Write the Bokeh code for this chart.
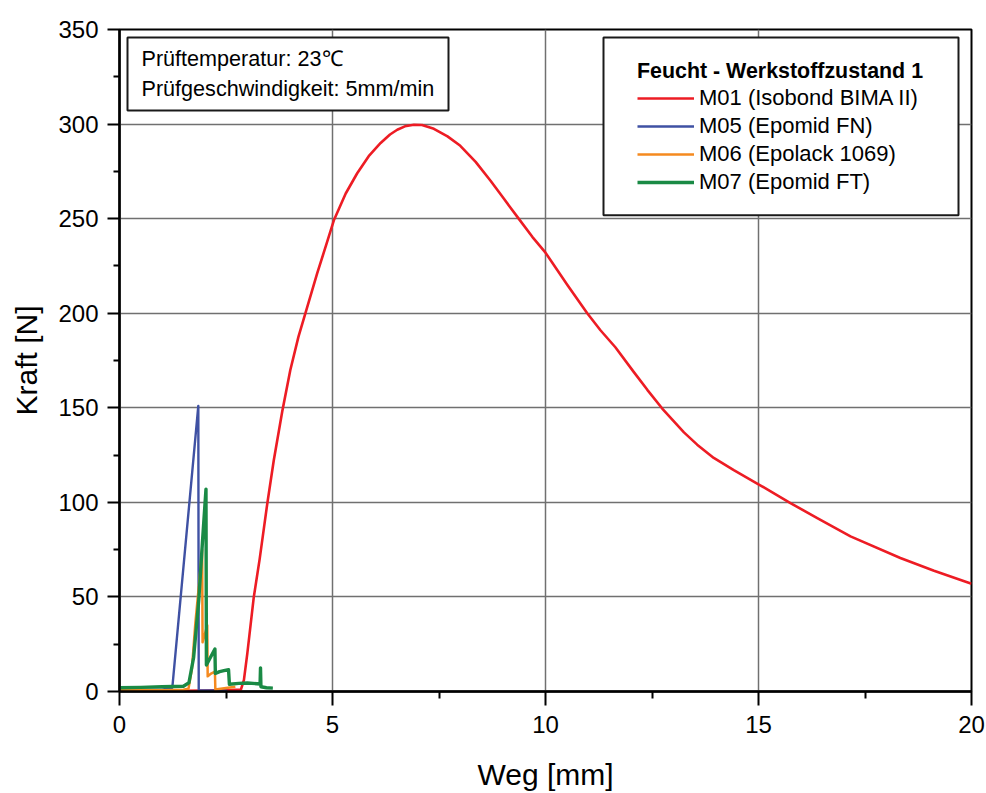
from bokeh.plotting import figure
from bokeh.models import (Range1d, FixedTicker, Legend, LegendItem, BoxAnnotation, Label)
from bokeh.embed import file_html
from bokeh.resources import INLINE

# ---------------- data ----------------
x_ticks = [0, 5, 10, 15, 20]
x_minor = [2.5, 7.5, 12.5, 17.5]
y_ticks = [0, 50, 100, 150, 200, 250, 300, 350]
y_minor = [25, 75, 125, 175, 225, 275, 325]

m01_x = [0, 1.0, 2.0, 2.6, 2.85, 2.92, 3.0, 3.15, 3.29, 3.47, 3.62, 3.82, 4.01, 4.2, 4.37,
         4.64, 4.85, 5.03, 5.31, 5.58, 5.85, 6.13, 6.35, 6.52, 6.7, 6.91, 7.1, 7.38, 7.7,
         8.0, 8.36, 8.71, 9.02, 9.37, 9.69, 10.0, 10.51, 10.98, 11.29, 11.64, 12.07, 12.39,
         12.74, 13.25, 13.56, 13.95, 14.42, 15.02, 15.75, 16.38, 17.16, 18.33, 19.12, 20.0]
m01_y = [0.3, 0.3, 0.5, 0.8, 1.0, 6, 20, 49.5, 70, 99.5, 122, 148, 170, 187.5, 200.5,
         221, 236, 249, 263.3, 274, 283, 290, 294.5, 297, 298.8, 299.6, 299.5, 297.5, 293.5,
         288.5, 280, 270, 260.6, 250, 240.4, 232, 215, 200, 191, 182, 169, 159.5,
         149.6, 137, 130.5, 123.5, 117, 109.3, 99.6, 91.7, 82, 70.6, 63.8, 57]

m05_x = [0, 0.5, 1.0, 1.24, 1.85, 1.86, 2.2, 2.53]
m05_y = [0.8, 1.0, 1.0, 2.0, 151, 0.5, 0.5, 0.4]

m06_x = [0, 0.5, 1.0, 1.5, 1.62, 1.7, 1.78, 1.88, 1.94, 1.95, 2.0, 2.06, 2.07, 2.15,
         2.24, 2.25, 2.5, 2.72]
m06_y = [0.8, 0.6, 0.7, 0.9, 1.5, 12, 36, 60, 75, 26, 30, 35, 8, 9.5,
         10.5, 1.0, 1.8, 2.5]

m07_x = [0, 0.5, 1.0, 1.5, 1.63, 1.74, 1.86, 1.95, 2.03, 2.04, 2.24, 2.25, 2.35, 2.45,
         2.56, 2.58, 2.8, 3.0, 3.3, 3.31, 3.32, 3.45, 3.6]
m07_y = [2.0, 2.2, 2.5, 2.8, 4.6, 18, 48, 80, 107, 14, 22.5, 9.5, 10.5, 11,
         11.5, 3.8, 4.3, 4.5, 4.0, 12.5, 2.5, 2.0, 1.8]

series_names = ["M01 (Isobond BIMA II)", "M05 (Epomid FN)", "M06 (Epolack 1069)", "M07 (Epomid FT)"]
legend_title = "Feucht - Werkstoffzustand 1"
note_lines = ["Prüftemperatur: 23℃", "Prüfgeschwindigkeit: 5mm/min"]

# ---------------- layout ----------------
FONT = "Liberation Sans"
W, H = 986, 793
FL, FR, FT, FB = 119, 971, 29, 692   # frame edges in page px
X0, X1, Y0, Y1 = 0, 20, 0, 350

def dx(px):
    return X0 + (px - FL) / (FR - FL) * (X1 - X0)

def dy(py):
    return Y0 + (FB - py) / (FB - FT) * (Y1 - Y0)

p = figure(width=W, height=H, output_backend="svg", toolbar_location=None,
           x_range=Range1d(X0, X1), y_range=Range1d(Y0, Y1),
           min_border_left=FL, min_border_right=W - FR,
           min_border_top=FT, min_border_bottom=H - FB)
p.background_fill_color = "white"
p.border_fill_color = "white"
p.outline_line_color = "black"
p.outline_line_width = 2

p.xaxis.ticker = FixedTicker(ticks=x_ticks, minor_ticks=x_minor)
p.yaxis.ticker = FixedTicker(ticks=y_ticks, minor_ticks=y_minor)
p.xgrid.ticker = FixedTicker(ticks=x_ticks)
p.ygrid.ticker = FixedTicker(ticks=y_ticks)
for g in (p.xgrid, p.ygrid):
    g.grid_line_color = "#707070"
    g.grid_line_width = 1.5

p.xaxis.axis_label = "Weg [mm]"
p.yaxis.axis_label = "Kraft [N]"
for ax in (p.xaxis, p.yaxis):
    ax.axis_line_width = 2.5
    ax.axis_line_color = "black"
    ax.major_tick_line_width = 2
    ax.minor_tick_line_width = 2
    ax.major_tick_line_color = "black"
    ax.minor_tick_line_color = "black"
    ax.major_tick_in = 0
    ax.minor_tick_in = 0
    ax.major_label_text_font = FONT
    ax.major_label_text_font_size = "24px"
    ax.major_label_text_color = "black"
    ax.axis_label_text_font = FONT
    ax.axis_label_text_font_size = "30px"
    ax.axis_label_text_font_style = "normal"
    ax.axis_label_text_color = "black"
p.xaxis.major_tick_out = 14
p.xaxis.minor_tick_out = 7
p.yaxis.major_tick_out = 12
p.yaxis.minor_tick_out = 6
p.xaxis.major_label_standoff = 10
p.yaxis.major_label_standoff = 9
p.xaxis.axis_label_standoff = 22
p.yaxis.axis_label_standoff = 12

colors = ["#ED1C24", "#3F51A3", "#F58A1F", "#1A8A45"]
widths = [2.6, 2.4, 2.5, 3.4]
xs = [m01_x, m05_x, m06_x, m07_x]
ys = [m01_y, m05_y, m06_y, m07_y]
rends = []
for xv, yv, c, w in zip(xs, ys, colors, widths):
    rends.append(p.line(xv, yv, line_color=c, line_width=w, line_join="round"))

# note box
note_box = BoxAnnotation(left=dx(127), right=dx(448), top=dy(37), bottom=dy(110),
                         fill_color="white", fill_alpha=1.0,
                         line_color="#1a1a1a", line_alpha=1.0, line_width=2)
p.add_layout(note_box)
for i, t in enumerate(note_lines):
    p.add_layout(Label(x=dx(141), y=dy(58 + 30 * i), text=t,
                       text_font=FONT, text_font_size="21.6px", text_color="black",
                       text_baseline="middle", text_align="left"))

# legend box
leg_box = BoxAnnotation(left=dx(603), right=dx(958), top=dy(37), bottom=dy(215),
                        fill_color="white", fill_alpha=1.0,
                        line_color="#1a1a1a", line_alpha=1.0, line_width=2)
p.add_layout(leg_box)

legend = Legend(items=[LegendItem(label=n, renderers=[r]) for n, r in zip(series_names, rends)],
                location=(637 - FL, FB - 197))
legend.title = legend_title
legend.title_text_font = FONT
legend.title_text_font_size = "21.4px"
legend.title_text_font_style = "bold"
legend.title_text_color = "black"
legend.title_standoff = 0
legend.label_text_font = FONT
legend.label_text_font_size = "22px"
legend.label_text_color = "black"
legend.glyph_width = 57
legend.glyph_height = 28
legend.label_height = 28
legend.label_standoff = 5
legend.spacing = 0
legend.padding = 0
legend.margin = 0
legend.border_line_alpha = 0
legend.background_fill_alpha = 0
p.add_layout(legend)

open("out.html", "w").write(file_html(p, INLINE))
